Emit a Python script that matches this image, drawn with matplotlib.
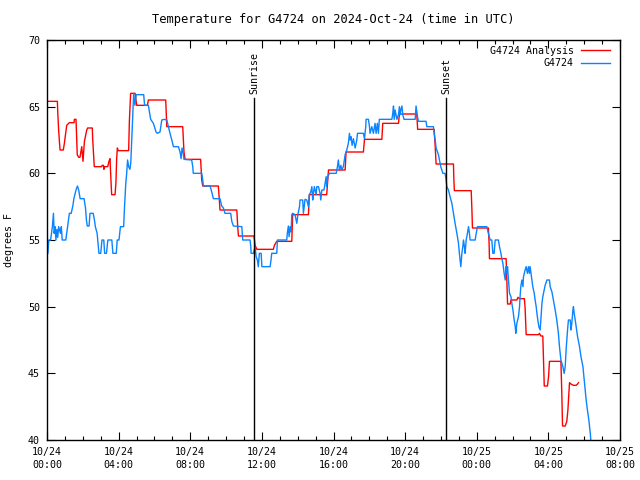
from datetime import datetime, timedelta

import matplotlib
matplotlib.use("Agg")
import matplotlib.pyplot as plt
import matplotlib.dates as mdates

# hours since 2024-10-24 00:00 UTC
obs_hours = [
    0.00, 0.05, 0.10, 0.20, 0.30, 0.36, 0.40, 0.45, 0.50, 0.55, 0.60, 0.65, 0.75, 0.80, 0.85,
    1.05, 1.15, 1.25, 1.35, 1.45, 1.50, 1.62, 1.70, 1.77, 1.85, 2.07, 2.15, 2.20, 2.25, 2.35,
    2.40, 2.58, 2.65, 2.70, 2.80, 2.90, 3.00, 3.07, 3.17, 3.22, 3.32, 3.40, 3.62, 3.68, 3.87,
    3.92, 4.02, 4.10, 4.28, 4.33, 4.40, 4.45, 4.50, 4.56, 4.63, 4.68, 4.77, 4.84, 4.91, 4.98,
    5.40, 5.45, 5.66, 5.72, 5.79, 5.94, 6.09, 6.16, 6.31, 6.41, 6.54, 6.69, 6.78, 6.87, 6.97,
    7.06, 7.34, 7.43, 7.49, 7.54, 7.61, 7.65, 8.08, 8.14, 8.17, 8.64, 8.70, 8.73, 9.11, 9.20,
    9.29, 9.66, 9.76, 9.85, 9.94, 10.26, 10.32, 10.41, 10.88, 10.93, 11.34, 11.38, 11.40, 11.53,
    11.62, 11.68, 11.75, 11.80, 11.86, 11.96, 12.00, 12.46, 12.51, 12.55, 12.83, 12.87, 13.39,
    13.42, 13.48, 13.52, 13.58, 13.63, 13.67, 13.72, 13.85, 13.95, 14.01, 14.10, 14.13, 14.28,
    14.32, 14.36, 14.41, 14.51, 14.60, 14.65, 14.73, 14.79, 14.84, 14.88, 14.93, 15.03, 15.07,
    15.16, 15.25, 15.29, 15.35, 15.47, 15.53, 15.59, 15.62, 15.68, 15.77, 16.15, 16.22, 16.27,
    16.33, 16.41, 16.46, 16.55, 16.65, 16.74, 16.83, 16.89, 16.93, 16.98, 17.04, 17.11, 17.21,
    17.30, 17.34, 17.67, 17.73, 17.80, 17.82, 17.95, 18.01, 18.04, 18.14, 18.23, 18.32, 18.38,
    18.45, 18.51, 18.56, 19.26, 19.31, 19.35, 19.39, 19.44, 19.54, 19.63, 19.68, 19.72, 19.76,
    19.82, 19.87, 19.94, 20.56, 20.61, 20.69, 20.74, 21.17, 21.21, 21.58, 21.62, 21.68, 21.73,
    21.77, 21.86, 21.92, 21.99, 22.05, 22.11, 22.23, 22.29, 22.33, 22.42, 22.51, 22.61, 22.70,
    22.79, 22.89, 22.98, 23.03, 23.07, 23.11, 23.17, 23.22, 23.26, 23.31, 23.35, 23.41, 23.48,
    23.54, 23.59, 23.63, 23.91, 23.97, 24.04, 24.56, 24.65, 24.75, 24.84, 24.90, 24.97, 25.03,
    25.21, 25.27, 25.35, 25.40, 25.46, 25.53, 25.59, 25.64, 25.68, 25.72, 25.77, 25.83, 25.91,
    25.96, 26.02, 26.09, 26.15, 26.18, 26.24, 26.33, 26.39, 26.42, 26.46, 26.52, 26.58, 26.61,
    26.70, 26.76, 26.83, 26.89, 26.94, 26.98, 27.08, 27.13, 27.21, 27.26, 27.32, 27.36, 27.41,
    27.47, 27.54, 27.58, 27.64, 27.69, 27.77, 27.82, 27.92, 28.06, 28.10, 28.20, 28.28, 28.38,
    28.47, 28.56, 28.62, 28.70, 28.81, 28.88, 28.94, 28.99, 29.07, 29.12, 29.22, 29.26, 29.31,
    29.37, 29.40, 29.44, 29.50, 29.55, 29.63, 29.74, 29.82, 29.93, 30.00, 30.11, 30.18, 30.26,
    30.34, 30.37,
]
obs_temp = [
    53.9, 54.0, 55.0, 55.0, 56.0, 57.0, 55.5, 56.0, 55.0, 55.8, 55.2, 56.0, 55.5, 56.0, 55.0,
    55.0, 56.0, 57.0, 57.0, 57.6, 58.1, 58.75, 59.05, 58.75, 58.1, 58.1, 57.4, 56.5, 56.05, 56.05,
    57.0, 57.0, 56.5, 56.0, 55.5, 54.0, 54.0, 55.0, 55.0, 54.0, 54.0, 55.0, 55.0, 54.0, 54.0,
    55.0, 55.0, 56.0, 56.0, 57.5, 59.25, 60.0, 61.0, 60.5, 60.3, 60.8, 63.8, 66.0, 65.1, 65.9,
    65.9, 65.1, 65.1, 64.6, 64.05, 63.75, 63.1, 63.0, 63.1, 64.0, 64.05, 64.0, 63.5, 63.0, 62.5,
    62.0, 62.0, 61.6, 61.1, 61.9, 61.5, 61.05, 61.0, 60.5, 60.0, 60.0, 59.5, 59.05, 59.05, 58.6,
    58.1, 58.1, 57.55, 57.4, 57.0, 57.0, 56.4, 56.05, 56.0, 55.0, 55.0, 54.5, 54.0, 54.0,
    54.5, 53.75, 53.5, 53.0, 54.0, 54.0, 53.0, 53.0, 53.5, 54.0, 54.0, 55.0, 55.0,
    55.5, 56.05, 55.25, 56.0, 55.6, 56.9, 57.0, 56.9, 56.25, 56.9, 57.5, 58.0, 58.0,
    57.0, 57.5, 58.05, 58.0, 57.5, 58.4, 58.6, 59.0, 58.0, 58.5, 59.0, 58.4, 59.0,
    59.0, 58.5, 58.0, 58.75, 58.75, 59.25, 59.75, 59.0, 59.75, 60.0, 60.0, 60.5, 61.0,
    60.25, 60.6, 60.25, 60.5, 61.4, 61.75, 62.25, 63.0, 62.5, 62.75, 62.1, 62.6, 61.9,
    62.5, 63.0, 63.0, 62.6, 63.5, 64.05, 64.05, 63.5, 63.0, 63.5, 63.0, 63.75, 63.0,
    63.75, 63.0, 64.05, 64.05, 64.5, 65.05, 64.05, 64.75, 64.05, 64.4, 65.0, 64.4, 64.75,
    65.05, 64.4, 64.05, 64.05, 65.05, 64.25, 63.9, 63.9, 63.5, 63.5, 63.0, 62.5, 61.9,
    61.75, 61.4, 61.0, 60.5, 60.25, 60.0, 60.0, 59.5, 59.0, 58.75, 58.25, 57.75, 57.0,
    56.25, 55.5, 54.75, 54.0, 53.5, 53.0, 54.0, 54.5, 55.0, 54.5, 54.0, 55.0, 55.5,
    56.0, 55.5, 55.0, 55.0, 55.5, 56.0, 56.0, 55.5, 55.0, 55.0, 54.0, 54.0, 55.0,
    55.0, 54.5, 54.0, 53.6, 53.25, 52.5, 52.0, 53.0, 52.5, 53.0, 52.0, 51.0, 50.75,
    50.25, 49.75, 49.0, 48.5, 48.0, 48.75, 49.25, 50.0, 50.75, 51.5, 52.0, 51.5, 52.25,
    52.75, 53.0, 52.5, 53.0, 52.5, 53.0, 52.0, 51.5, 51.0, 50.5, 50.0, 49.5, 49.0,
    48.5, 48.25, 49.0, 50.25, 50.75, 51.25, 51.6, 52.0, 52.0, 51.5, 51.1, 50.5, 49.75,
    49.0, 48.0, 47.0, 46.0, 45.5, 45.0, 45.5, 46.75, 48.25, 49.0, 49.0, 48.25, 48.75,
    49.75, 50.0, 49.5, 49.0, 48.5, 47.75, 47.0, 46.25, 45.5, 44.5, 43.0, 42.25, 41.5,
    40.5, 40.0,
]

ana_hours = [
    0.00, 0.58, 0.60, 0.65, 0.70, 0.73, 0.91, 0.97, 1.10, 1.25, 1.51, 1.53, 1.62, 1.69, 1.77,
    1.84, 1.94, 2.01, 2.09, 2.22, 2.27, 2.53, 2.55, 2.64, 3.05, 3.08, 3.15, 3.18, 3.20, 3.39,
    3.46, 3.52, 3.54, 3.61, 3.80, 3.85, 3.89, 3.93, 3.98, 4.56, 4.60, 4.67, 4.92, 5.01, 5.61,
    5.66, 6.63, 6.69, 7.58, 7.65, 7.71, 8.58, 8.64, 8.70, 9.57, 9.63, 9.66, 10.60, 10.65, 10.69,
    11.56, 11.62, 11.72, 12.64, 12.70, 12.83, 13.67, 13.72, 14.60, 14.65, 15.62, 15.72, 16.65,
    16.70, 17.67, 17.73, 18.70, 18.75, 19.63, 19.68, 20.65, 20.70, 21.62, 21.68, 21.73, 22.70,
    22.72, 22.75, 23.69, 23.73, 23.76, 24.65, 24.69, 24.71, 25.64, 25.68, 25.72, 25.87, 25.91,
    26.24, 26.30, 26.39, 26.66, 26.70, 26.76, 27.45, 27.50, 27.58, 27.69, 27.73, 27.77, 27.95,
    28.01, 28.06, 28.70, 28.75, 28.79, 28.94, 29.03, 29.09, 29.18, 29.26, 29.40, 29.55, 29.63,
    29.68,
]
ana_temp = [
    65.4, 65.4, 64.6, 63.25, 62.25, 61.75, 61.75, 62.25, 63.6, 63.8, 63.8, 64.05, 64.05, 61.4, 61.2,
    61.2, 62.0, 60.9, 62.4, 63.25, 63.4, 63.4, 62.6, 60.5, 60.5, 60.6, 60.6, 60.3, 60.5, 60.5,
    60.9, 61.1, 60.4, 58.4, 58.4, 59.3, 61.1, 61.9, 61.7, 61.7, 63.9, 66.0, 66.0, 65.1, 65.1,
    65.5, 65.5, 63.5, 63.5, 61.6, 61.05, 61.05, 59.5, 59.05, 59.05, 57.9, 57.25, 57.25, 56.0, 55.3,
    55.3, 54.6, 54.3, 54.3, 54.6, 54.9, 54.9, 56.9, 56.9, 58.4, 58.4, 60.25, 60.25,
    61.6, 61.6, 62.55, 62.55, 63.75, 63.75, 64.45, 64.45, 63.3, 63.3, 62.0, 60.7, 60.7,
    59.6, 58.7, 58.7, 57.25, 55.9, 55.9, 54.75, 53.6, 53.6, 52.0, 50.2, 50.2, 50.5,
    50.5, 50.7, 50.6, 50.6, 49.9, 47.9, 47.9, 48.0, 47.8, 47.8, 45.9, 44.05, 44.05,
    44.75, 45.9, 45.9, 43.5, 41.05, 41.05, 41.4, 42.25, 44.3, 44.2, 44.1, 44.1, 44.2,
    44.3,
]

sun_events = ["Sunrise", "Sunset"]
sun_hours = [11.56, 22.29]

start = datetime(2024, 10, 24)


def to_time(hours):
    return [start + timedelta(hours=h) for h in hours]


plt.rcParams["font.family"] = ["DejaVu Sans Mono"]
plt.rcParams["font.size"] = 7.2

fig = plt.figure(figsize=(6.4, 4.8), dpi=100)
ax = fig.add_axes([47 / 640, 40 / 480, 573 / 640, 400 / 480])

ax.plot(to_time(ana_hours), ana_temp, color="red", lw=1.0, label="G4724 Analysis")
ax.plot(to_time(obs_hours), obs_temp, color="#0a84ff", lw=1.0, label="G4724")

for name, h in zip(sun_events, sun_hours):
    t = start + timedelta(hours=h)
    ax.axvline(t, ymin=0, ymax=0.855, color="black", lw=1.0)
    ax.text(t, 0.865, name, transform=ax.get_xaxis_transform(),
            rotation=90, ha="center", va="bottom")

ax.set_xlim(start, start + timedelta(hours=32))
ax.set_ylim(40, 70)
ax.set_yticks(range(40, 71, 5))
ax.xaxis.set_major_locator(mdates.HourLocator(byhour=range(0, 24, 4)))
ax.xaxis.set_minor_locator(mdates.HourLocator())
ax.xaxis.set_major_formatter(mdates.DateFormatter("%m/%d\n%H:%M"))

ax.tick_params(which="both", direction="in", top=True, right=True, width=0.8)
ax.tick_params(which="major", length=6, pad=5)
ax.tick_params(which="minor", length=3)
for lab in ax.get_xticklabels():
    lab.set_linespacing(1.4)
for sp in ax.spines.values():
    sp.set_linewidth(1.0)

ax.set_ylabel("degrees F", labelpad=10)
ax.set_title("Temperature for G4724 on 2024-Oct-24 (time in UTC)", pad=12)

ax.legend(loc="upper right", frameon=False, markerfirst=False,
          handlelength=2.9, handletextpad=0.7, labelspacing=0.25,
          borderpad=0, borderaxespad=0, bbox_to_anchor=(0.9825, 0.985))

fig.savefig("out.png", dpi=100)
